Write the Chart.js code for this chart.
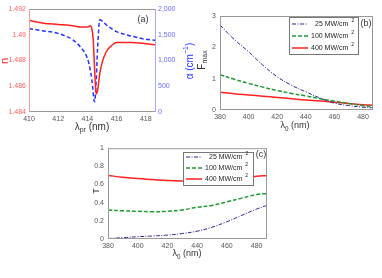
<!DOCTYPE html>
<html>
<head>
<meta charset="utf-8">
<script src="https://cdn.jsdelivr.net/npm/chart.js@4.4.1/dist/chart.umd.min.js"></script>
<style>
  body { margin: 0; background: #fff; }
  #wrap { position: relative; width: 382px; height: 278px; overflow: hidden; }
  canvas { position: absolute; }
</style>
</head>
<body>
<div id="wrap">
  <canvas id="chartA" width="200" height="140" style="left:0;top:0"></canvas>
  <canvas id="chartB" width="191" height="140" style="left:191px;top:0"></canvas>
  <canvas id="chartC" width="220" height="138" style="left:80px;top:140px"></canvas>
</div>
<script>
/* ---- panel (a): refractive index n and absorption alpha vs probe wavelength ---- */
const aWave  = [410, 411, 412, 413, 413.5, 414, 414.2, 414.3, 414.4, 414.45, 414.5, 414.6, 414.7, 414.85, 415, 415.3, 415.7, 416, 417, 418, 418.7];
const aN     = [1.4911, 1.4909, 1.4908, 1.4907, 1.4906, 1.4906, 1.4907, 1.4905, 1.4896, 1.4884, 1.4872, 1.4854, 1.4857, 1.4870, 1.4878, 1.4887, 1.4892, 1.4894, 1.4894, 1.4893, 1.4892];
const aAlpha = [1620, 1575, 1527, 1400, 1270, 1042, 815, 640, 380, 230, 200, 600, 1250, 1790, 1770, 1690, 1610, 1560, 1476, 1412, 1390];

/* ---- panels (b) and (c): vs pump wavelength, three intensities ---- */
const intensities = ["25", "100", "400"];
const bWave = [380, 390, 400, 410, 420, 430, 440, 450, 460, 470, 480, 487];
const bF25  = [2.71, 2.25, 1.86, 1.43, 1.06, 0.79, 0.58, 0.38, 0.22, 0.14, 0.09, 0.07];
const bF100 = [1.13, 0.98, 0.85, 0.73, 0.62, 0.53, 0.45, 0.36, 0.28, 0.21, 0.14, 0.11];
const bF400 = [0.57, 0.52, 0.48, 0.44, 0.40, 0.36, 0.32, 0.29, 0.25, 0.21, 0.17, 0.15];

const cWave = [380, 390, 400, 410, 420, 430, 440, 450, 460, 470, 480, 487];
const cT25  = [0.005, 0.015, 0.025, 0.033, 0.043, 0.06, 0.086, 0.13, 0.19, 0.26, 0.33, 0.37];
const cT100 = [0.32, 0.31, 0.305, 0.30, 0.305, 0.32, 0.35, 0.37, 0.41, 0.45, 0.49, 0.50];
const cT400 = [0.70, 0.68, 0.665, 0.655, 0.645, 0.64, 0.64, 0.645, 0.655, 0.67, 0.69, 0.70];

const RED = "#ff2020", BLUE = "#2233ff", NAVY = "#2a2a90", GREEN = "#1f9a30";
const FONT = "'Liberation Sans', Arial, sans-serif";
const NOGRID = { display: false, drawTicks: false, tickLength: 0 };

function pts(xs, ys) { return xs.map((x, i) => ({ x: x, y: ys[i] })); }

// draw text made of normal / sub / sup pieces, centred on (x, y)
function drawRich(ctx, parts, x, y, size, color, rot) {
  ctx.save();
  ctx.translate(x, y);
  if (rot) ctx.rotate(rot);
  ctx.fillStyle = color;
  ctx.textBaseline = "middle";
  ctx.textAlign = "left";
  let total = 0;
  const sizes = parts.map((p) => (p[1] === "n" ? size : size * 0.7));
  parts.forEach((p, i) => {
    ctx.font = sizes[i] + "px " + FONT;
    total += ctx.measureText(p[0]).width;
  });
  let cx = -total / 2;
  parts.forEach((p, i) => {
    ctx.font = sizes[i] + "px " + FONT;
    let dy = 0;
    if (p[1] === "sub") dy = size * 0.35;
    if (p[1] === "sup") dy = -size * 0.35;
    ctx.fillText(p[0], cx, dy);
    cx += ctx.measureText(p[0]).width;
  });
  ctx.restore();
}

// MATLAB style box, labels and optional legend
const decorPlugin = {
  id: "decor",
  afterDraw(chart, args, opts) {
    const ctx = chart.ctx;
    const a = chart.chartArea;
    ctx.save();
    ctx.lineWidth = 1;
    ctx.strokeStyle = "#999";
    ctx.beginPath();
    ctx.moveTo(a.left, a.top + 0.5); ctx.lineTo(a.right, a.top + 0.5);
    ctx.moveTo(a.left, a.bottom - 0.5); ctx.lineTo(a.right, a.bottom - 0.5);
    ctx.stroke();
    ctx.strokeStyle = opts.leftColor || "#999";
    ctx.beginPath(); ctx.moveTo(a.left + 0.5, a.top); ctx.lineTo(a.left + 0.5, a.bottom); ctx.stroke();
    ctx.strokeStyle = opts.rightColor || "#999";
    ctx.beginPath(); ctx.moveTo(a.right - 0.5, a.top); ctx.lineTo(a.right - 0.5, a.bottom); ctx.stroke();
    ctx.restore();

    (opts.texts || []).forEach((t) => {
      drawRich(ctx, t.parts, t.x, t.y, t.size, t.color || "#333", t.rot || 0);
    });

    if (opts.legend) {
      const L = opts.legend;
      ctx.save();
      ctx.fillStyle = "#fff";
      ctx.fillRect(L.x, L.y, L.w, L.h);
      ctx.strokeStyle = "#777";
      ctx.lineWidth = 1;
      ctx.strokeRect(L.x + 0.5, L.y + 0.5, L.w, L.h);
      chart.data.datasets.forEach((ds, i) => {
        const yy = L.y + L.first + i * L.step;
        ctx.strokeStyle = ds.borderColor;
        ctx.lineWidth = ds.borderWidth;
        ctx.setLineDash(ds.borderDash || []);
        ctx.beginPath();
        ctx.moveTo(L.x + 3, yy); ctx.lineTo(L.x + 3 + L.line, yy);
        ctx.stroke();
        ctx.setLineDash([]);
        ctx.fillStyle = "#222";
        ctx.textBaseline = "middle";
        ctx.font = "7px " + FONT;
        const label = ds.label + " MW/cm";
        const tx = L.x + L.line + 6 + (ds.label.length < 3 ? 4 : 0);
        ctx.fillText(label, tx, yy);
        const w = ctx.measureText(label).width;
        ctx.font = "5px " + FONT;
        ctx.fillText("2", tx + w + 3, yy - 3);
      });
      ctx.restore();
    }
  },
};

function fitWidth(w) { return (scale) => { scale.width = w; }; }
function fitHeight(h) { return (scale) => { scale.height = h; }; }

function tickFont(size) { return { family: FONT, size: size }; }

/* ---------- (a) ---------- */
new Chart(document.getElementById("chartA"), {
  type: "line",
  data: {
    datasets: [
      { label: "n", data: pts(aWave, aN), yAxisID: "yN", borderColor: RED, borderWidth: 1.5,
        pointRadius: 0, cubicInterpolationMode: "monotone", fill: false },
      { label: "alpha", data: pts(aWave, aAlpha), yAxisID: "yA", borderColor: BLUE, borderWidth: 1.5,
        borderDash: [4, 2.5], pointRadius: 0, cubicInterpolationMode: "monotone", fill: false },
    ],
  },
  options: {
    responsive: false,
    animation: false,
    layout: { padding: { top: 9, right: 0, left: 0, bottom: 0 } },
    plugins: {
      legend: { display: false },
      tooltip: { enabled: false },
      decor: {
        leftColor: "#ff9a9a",
        rightColor: "#a8a8ff",
        texts: [
          { parts: [["n", "n"]], x: 5, y: 61, size: 11, color: RED, rot: -Math.PI / 2 },
          { parts: [["α (cm", "n"], ["−1", "sup"], [")", "n"]], x: 190, y: 61, size: 10, color: BLUE, rot: -Math.PI / 2 },
          { parts: [["λ", "n"], ["pr", "sub"], [" (nm)", "n"]], x: 92, y: 127, size: 10, color: "#333" },
          { parts: [["(a)", "n"]], x: 143, y: 20, size: 9, color: "#333" },
        ],
      },
    },
    scales: {
      x: {
        type: "linear", min: 410, max: 418.7,
        afterFit: fitHeight(28),
        afterBuildTicks: (s) => { s.ticks = [410, 412, 414, 416, 418].map((v) => ({ value: v })); },
        ticks: { font: tickFont(7), color: "#555", padding: 3, maxRotation: 0 },
        grid: NOGRID,
        border: { display: false },
      },
      yN: {
        position: "left", min: 1.484, max: 1.492,
        afterFit: fitWidth(29),
        afterBuildTicks: (s) => { s.ticks = [1.484, 1.486, 1.488, 1.49, 1.492].map((v) => ({ value: v })); },
        ticks: { font: tickFont(7), color: "#ff6060", padding: 3, callback: (v) => String(+v.toFixed(3)) },
        grid: NOGRID,
        border: { display: false },
      },
      yA: {
        position: "right", min: 0, max: 2000,
        afterFit: fitWidth(44),
        ticks: { stepSize: 500, font: tickFont(7), color: "#6a6aff", padding: 2 },
        grid: NOGRID,
        border: { display: false },
      },
    },
  },
  plugins: [decorPlugin],
});

/* ---------- (b) ---------- */
new Chart(document.getElementById("chartB"), {
  type: "line",
  data: {
    datasets: [
      { label: intensities[0], data: pts(bWave, bF25), borderColor: NAVY, borderWidth: 1,
        borderDash: [4, 1.5, 1, 1.5], pointRadius: 0, tension: 0.4, fill: false },
      { label: intensities[1], data: pts(bWave, bF100), borderColor: GREEN, borderWidth: 1.5,
        borderDash: [4, 2], pointRadius: 0, tension: 0.4, fill: false },
      { label: intensities[2], data: pts(bWave, bF400), borderColor: RED, borderWidth: 1.5,
        pointRadius: 0, tension: 0.4, fill: false },
    ],
  },
  options: {
    responsive: false,
    animation: false,
    layout: { padding: { top: 16, right: 9, left: 0, bottom: 0 } },
    plugins: {
      legend: { display: false },
      tooltip: { enabled: false },
      decor: {
        texts: [
          { parts: [["F", "n"], ["max", "sub"]], x: 11, y: 60, size: 10, color: "#333", rot: -Math.PI / 2 },
          { parts: [["λ", "n"], ["0", "sub"], [" (nm)", "n"]], x: 104, y: 126, size: 9, color: "#333" },
          { parts: [["(b)", "n"]], x: 175, y: 24, size: 9, color: "#333" },
        ],
        legend: { x: 98, y: 17, w: 69, h: 37, first: 7, step: 12, line: 16 },
      },
    },
    scales: {
      x: {
        type: "linear", min: 380, max: 487,
        afterFit: fitHeight(30),
        afterBuildTicks: (s) => { s.ticks = [380, 400, 420, 440, 460, 480].map((v) => ({ value: v })); },
        ticks: { font: tickFont(7), color: "#555", padding: 3, maxRotation: 0 },
        grid: NOGRID,
        border: { display: false },
      },
      y: {
        min: 0, max: 3,
        afterFit: fitWidth(29),
        ticks: { stepSize: 1, font: tickFont(7), color: "#555", padding: 4 },
        grid: NOGRID,
        border: { display: false },
      },
    },
  },
  plugins: [decorPlugin],
});

/* ---------- (c) ---------- */
new Chart(document.getElementById("chartC"), {
  type: "line",
  data: {
    datasets: [
      { label: intensities[0], data: pts(cWave, cT25), borderColor: NAVY, borderWidth: 1,
        borderDash: [4, 1.5, 1, 1.5], pointRadius: 0, tension: 0.4, fill: false },
      { label: intensities[1], data: pts(cWave, cT100), borderColor: GREEN, borderWidth: 1.5,
        borderDash: [4, 2], pointRadius: 0, tension: 0.4, fill: false },
      { label: intensities[2], data: pts(cWave, cT400), borderColor: RED, borderWidth: 1.5,
        pointRadius: 0, tension: 0.4, fill: false },
    ],
  },
  options: {
    responsive: false,
    animation: false,
    layout: { padding: { top: 6, right: 33, left: 0, bottom: 0 } },
    plugins: {
      legend: { display: false },
      tooltip: { enabled: false },
      decor: {
        texts: [
          { parts: [["T", "n"]], x: 17, y: 51, size: 9, color: "#333", rot: -Math.PI / 2 },
          { parts: [["λ", "n"], ["0", "sub"], [" (nm)", "n"]], x: 107, y: 114, size: 9, color: "#333" },
          { parts: [["(c)", "n"]], x: 181, y: 15, size: 9, color: "#333" },
        ],
        legend: { x: 103, y: 12, w: 70, h: 33, first: 5, step: 11, line: 16 },
      },
    },
    scales: {
      x: {
        type: "linear", min: 380, max: 487,
        afterFit: fitHeight(39),
        afterBuildTicks: (s) => { s.ticks = [380, 400, 420, 440, 460, 480].map((v) => ({ value: v })); },
        ticks: { font: tickFont(7), color: "#555", padding: 3, maxRotation: 0 },
        grid: NOGRID,
        border: { display: false },
      },
      y: {
        min: 0, max: 1,
        afterFit: fitWidth(28),
        afterBuildTicks: (s) => { s.ticks = [0, 0.2, 0.4, 0.6, 0.8, 1].map((v) => ({ value: v })); },
        ticks: { font: tickFont(7), color: "#555", padding: 4, callback: (v) => String(+v.toFixed(1)) },
        grid: NOGRID,
        border: { display: false },
      },
    },
  },
  plugins: [decorPlugin],
});
</script>
</body>
</html>
